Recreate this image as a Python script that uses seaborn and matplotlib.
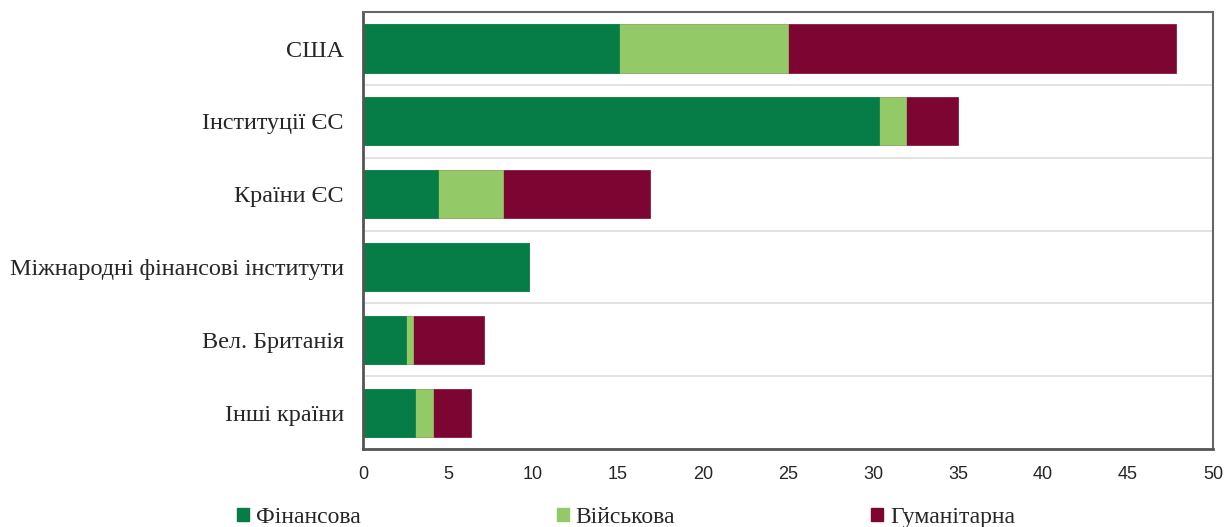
import numpy as np
import pandas as pd
import matplotlib
matplotlib.use("Agg")
import matplotlib.pyplot as plt
import seaborn as sns
from matplotlib.patches import Patch

categories = [
    "США",
    "Інституції ЄС",
    "Країни ЄС",
    "Міжнародні фінансові інститути",
    "Вел. Британія",
    "Інші країни",
]
financial = [15.05, 30.35, 4.4, 9.78, 2.53, 3.06]
military = [9.95, 1.57, 3.84, 0.0, 0.41, 1.04]
humanitarian = [22.85, 3.1, 8.62, 0.0, 4.16, 2.27]

series_names = ["Фінансова", "Військова", "Гуманітарна"]
colors = ["#067D46", "#94C968", "#7D0532"]

df = pd.DataFrame(
    {
        "category": categories,
        "fin": financial,
        "mil": military,
        "hum": humanitarian,
    }
)
df["fin_mil"] = df["fin"] + df["mil"]
df["total"] = df["fin_mil"] + df["hum"]

sns.set_style("white")
plt.rcParams["font.family"] = ["Liberation Serif", "DejaVu Serif"]

fig, ax = plt.subplots(figsize=(12.32, 5.27), dpi=100)
fig.subplots_adjust(left=0.2947, right=0.9846, top=0.977, bottom=0.148)

# stacked bars: draw cumulative totals from largest to smallest
for col, color in zip(["total", "fin_mil", "fin"], colors[::-1]):
    sns.barplot(
        data=df,
        x=col,
        y="category",
        orient="h",
        color=color,
        saturation=1,
        width=0.66,
        edgecolor=color,
        linewidth=0.5,
        ax=ax,
    )

ax.set_xlim(0, 50)
ax.set_ylim(len(categories) - 0.5, -0.5)
ax.set_xticks(np.arange(0, 51, 5))
ax.set_xlabel("")
ax.set_ylabel("")
for lbl in ax.get_xticklabels():
    lbl.set_family(["Liberation Sans", "DejaVu Sans"])

ax.set_yticks(np.arange(len(categories)))
ax.set_yticklabels(categories)
ax.set_yticks(np.arange(len(categories) - 1) + 0.5, minor=True)
ax.tick_params(axis="y", which="major", length=0, pad=14, labelsize=17.4)
ax.tick_params(axis="y", which="minor", length=6, width=1.5, direction="in", color="#555555")
ax.tick_params(axis="x", which="major", length=5, width=1.5, direction="in",
               color="#555555", labelsize=13, pad=12)
ax.grid(axis="y", which="minor", color="#DDDDDD", linewidth=1.2)
ax.set_axisbelow(True)

for side in ["left", "bottom"]:
    ax.spines[side].set_color("#555555")
    ax.spines[side].set_linewidth(2)
for side in ["top", "right"]:
    ax.spines[side].set_color("#666666")
    ax.spines[side].set_linewidth(1.5)

handles = [Patch(facecolor=c, edgecolor=c) for c in colors]
fig.legend(
    handles,
    series_names,
    loc="lower left",
    bbox_to_anchor=(0.1753, -0.042),
    ncol=3,
    frameon=False,
    fontsize=17,
    handlelength=0.5,
    handleheight=0.5,
    handletextpad=0.3,
    columnspacing=8.3,
)

fig.savefig("out.png", dpi=100)
